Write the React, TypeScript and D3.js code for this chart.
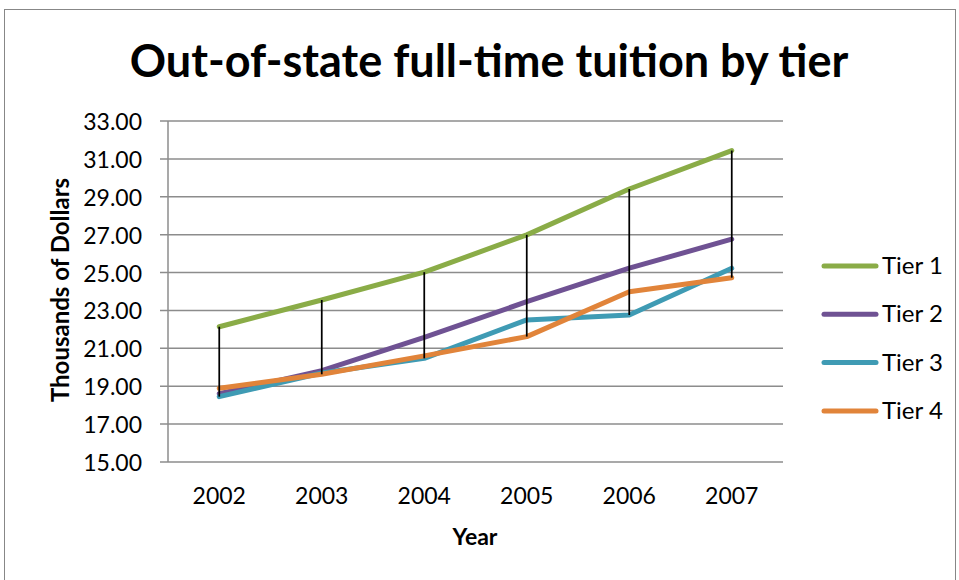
import React from "react";
import * as d3 from "d3";

const years = ["2002", "2003", "2004", "2005", "2006", "2007"];
const tier1 = [22.14, 23.55, 25.02, 26.99, 29.41, 31.44];
const tier2 = [18.6, 19.82, 21.58, 23.46, 25.23, 26.76];
const tier3 = [18.45, 19.7, 20.47, 22.5, 22.76, 25.23];
const tier4 = [18.89, 19.63, 20.6, 21.62, 23.99, 24.73];
const seriesNames = ["Tier 1", "Tier 2", "Tier 3", "Tier 4"];
const seriesColors = ["#8aac47", "#6f5293", "#3f9bb4", "#e1843a"];
const yTicks = [15, 17, 19, 21, 23, 25, 27, 29, 31, 33];

const W = 959;
const H = 580;
const plot = { left: 168, right: 783, top: 121, bottom: 462 };
const FONT = "Lato, 'Open Sans', sans-serif";

export default function App() {
  const series = [tier1, tier2, tier3, tier4];
  const x = d3.scaleBand<string>().domain(years).range([plot.left, plot.right]);
  const y = d3.scaleLinear().domain([15, 33]).range([plot.bottom, plot.top]);
  const cx = (yr: string) => (x(yr) as number) + x.bandwidth() / 2;
  const line = d3
    .line<number>()
    .x((_, i) => cx(years[i]))
    .y((d) => y(d));

  const hiLo = years.map((yr, i) => {
    const vals = series.map((s) => s[i]);
    return { yr, hi: d3.max(vals) as number, lo: d3.min(vals) as number };
  });

  return (
    <svg
      width={W}
      height={H}
      style={{ position: "absolute", left: 0, top: 0, background: "#fff" }}
      fontFamily={FONT}
    >
      <rect x={4.5} y={9.5} width={951} height={600} fill="#fff" stroke="#878787" strokeWidth={1} />
      <text
        x={489}
        y={77}
        textAnchor="middle"
        fontWeight="bold"
        fontSize={45}
        fill="#000"
      >
        Out-of-state full-time tuition by tier
      </text>

      {/* gridlines */}
      {yTicks.map((t) => (
        <g key={t}>
          <line
            x1={plot.left - 8}
            x2={plot.right}
            y1={y(t)}
            y2={y(t)}
            stroke="#8c8c8c"
            strokeWidth={1.5}
          />
          <text x={142} y={y(t) + 9} textAnchor="end" fontSize={23} fill="#000">
            {t.toFixed(2)}
          </text>
        </g>
      ))}
      <line x1={plot.left} x2={plot.left} y1={plot.top} y2={plot.bottom} stroke="#8c8c8c" strokeWidth={1.5} />

      {years.map((yr) => (
        <text key={yr} x={cx(yr)} y={504} textAnchor="middle" fontSize={23} fill="#000">
          {yr}
        </text>
      ))}

      {/* series lines */}
      {series.map((s, i) => (
        <path
          key={seriesNames[i]}
          d={line(s) as string}
          fill="none"
          stroke={seriesColors[i]}
          strokeWidth={5}
          strokeLinejoin="round"
          strokeLinecap="round"
        />
      ))}

      {/* high-low lines */}
      {hiLo.map((d) => (
        <line
          key={d.yr}
          x1={cx(d.yr)}
          x2={cx(d.yr)}
          y1={y(d.hi)}
          y2={y(d.lo)}
          stroke="#000"
          strokeWidth={1.75}
        />
      ))}

      {/* axis titles */}
      <text
        transform={`translate(69, 290) rotate(-90)`}
        textAnchor="middle"
        fontWeight="bold"
        fontSize={24}
        fill="#000"
      >
        Thousands of Dollars
      </text>
      <text x={475} y={545} textAnchor="middle" fontWeight="bold" fontSize={23} fill="#000">
        Year
      </text>

      {/* legend */}
      {seriesNames.map((n, i) => {
        const ly = 266 + i * 48.3;
        return (
          <g key={n}>
            <line x1={824} x2={876} y1={ly} y2={ly} stroke={seriesColors[i]} strokeWidth={5} strokeLinecap="round" />
            <text x={882} y={ly + 8} fontSize={24} fill="#000">
              {n}
            </text>
          </g>
        );
      })}
    </svg>
  );
}
